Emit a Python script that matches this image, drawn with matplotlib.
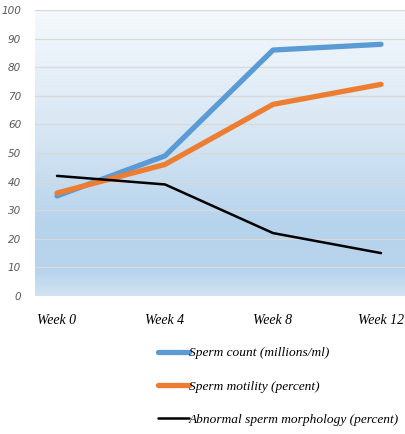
import numpy as np
import matplotlib
matplotlib.use('Agg')
import matplotlib.pyplot as plt
from matplotlib.colors import LinearSegmentedColormap

weeks = ["Week 0", "Week 4", "Week 8", "Week 12"]
sperm_count = [35, 49, 86, 88]
sperm_motility = [36, 46, 67, 74]
abnormal_morph = [42, 39, 22, 15]
yticks = list(range(0, 101, 10))

fig = plt.figure(figsize=(4.06, 4.34), dpi=100)
ax = fig.add_axes([35 / 406, 1 - 296 / 434, 370 / 406, 286 / 434])

# background gradient, bottom -> top
grad = LinearSegmentedColormap.from_list(
    "bg", [(0.0, "#d2e3f2"), (0.08, "#b9d5ed"), (0.25, "#b6d3ec"),
           (0.55, "#d5e5f3"), (1.0, "#f6f9fd")])
ax.imshow(np.linspace(0, 1, 256).reshape(-1, 1), cmap=grad, aspect="auto",
          origin="lower", extent=[0, 1, 0, 1], transform=ax.transAxes, zorder=0)

x = np.arange(len(weeks))
ax.plot(x, sperm_count, color="#5b9bd5", lw=3.8, solid_capstyle="round",
        solid_joinstyle="round", label="Sperm count (millions/ml)", zorder=3)
ax.plot(x, sperm_motility, color="#ed7d31", lw=3.8, solid_capstyle="round",
        solid_joinstyle="round", label="Sperm motility (percent)", zorder=4)
ax.plot(x, abnormal_morph, color="black", lw=1.8, solid_capstyle="round",
        label="Abnormal sperm morphology (percent)", zorder=5)

ax.set_xlim(-0.204, 3.222)
ax.set_ylim(0, 100)
ax.set_yticks(yticks)
ax.set_yticklabels([str(v) for v in yticks], fontsize=7.5, style="italic",
                   color="#595959")
ax.set_xticks(x)
ax.set_xticklabels(weeks, fontsize=10, style="italic", family="Liberation Serif")
ax.tick_params(length=0)
ax.tick_params(axis="x", pad=13)
ax.tick_params(axis="y", pad=10)
ax.grid(axis="y", color="#d9d9d9", lw=0.9, zorder=1)
ax.set_axisbelow(False)
for s in ax.spines.values():
    s.set_visible(False)

leg = fig.legend(loc="upper left", bbox_to_anchor=(146 / 406, 1 - 335 / 434),
                 frameon=False, handlelength=2.3, handletextpad=0.0,
                 labelspacing=1.58,
                 prop={"family": "Liberation Serif", "style": "italic", "size": 9.6})

fig.savefig("out.png", dpi=100)
